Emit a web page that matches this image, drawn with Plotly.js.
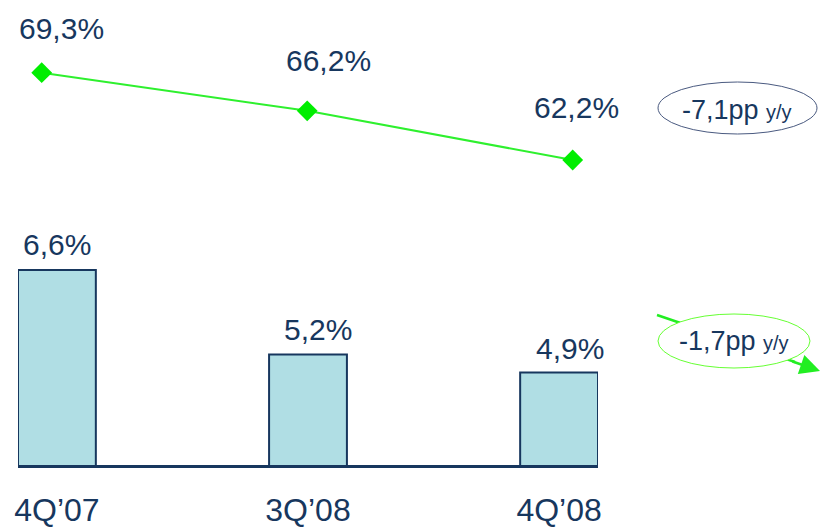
<!DOCTYPE html>
<html>
<head>
<meta charset="utf-8">
<script src="https://cdn.plot.ly/plotly-3.0.1.min.js"></script>
<style>html,body{margin:0;padding:0;background:#fff;}#chart{width:821px;height:529px;}</style>
</head>
<body>
<div id="chart"></div>
<script>
// ---- data ----
const quarters = ["4Q\u201907", "3Q\u201908", "4Q\u201908"];
const lineValues = [69.3, 66.2, 62.2];
const barValues = [6.6, 5.2, 4.9];
const lineDelta = "-7,1pp";
const barDelta = "-1,7pp";
const deltaUnit = "y/y";

// ---- helpers / styles ----
const fmt = v => v.toFixed(1).replace('.', ',') + '%';
const NAVY = '#17375E';
const FONT = 'Liberation Sans, Arial, sans-serif';
const W = 821, H = 529, ML = 18, MR = 223, MT = 0, MB = 64;
const PW = W - ML - MR, PH = H - MT - MB;
const px = x => (x - ML) / PW;
const py = y => (PH + MT - y) / PH;

const lineShift = [[20, 44], [21, 50], [4, 53]];
const barShift = [[0, 25], [10, 25], [11, 24]];

const traces = [
  {
    type: 'bar', x: quarters, y: barValues, xaxis: 'x', yaxis: 'y',
    width: 0.31,
    marker: {color: '#B0DEE4', line: {color: NAVY, width: 2}},
    hoverinfo: 'skip'
  },
  {
    type: 'scatter', mode: 'lines+markers', x: quarters, y: lineValues,
    xaxis: 'x2', yaxis: 'y2',
    line: {color: '#2EF02E', width: 2},
    marker: {symbol: 'diamond', size: 16, color: '#00EE00'},
    hoverinfo: 'skip'
  }
];

const annotations = [];
quarters.forEach((q, i) => {
  annotations.push({
    xref: 'x2', yref: 'y2', x: q, y: lineValues[i], text: fmt(lineValues[i]),
    showarrow: false, xshift: lineShift[i][0], yshift: lineShift[i][1],
    xanchor: 'center', yanchor: 'middle',
    font: {family: FONT, size: 30, color: NAVY}
  });
  annotations.push({
    xref: 'x', yref: 'y', x: q, y: barValues[i], text: fmt(barValues[i]),
    showarrow: false, xshift: barShift[i][0], yshift: barShift[i][1],
    xanchor: 'center', yanchor: 'middle',
    font: {family: FONT, size: 30, color: NAVY}
  });
});
annotations.push({
  xref: 'paper', yref: 'paper', x: px(737), y: py(110),
  xanchor: 'center', yanchor: 'middle',
  text: lineDelta + ' <span style="font-size:20px">' + deltaUnit + '</span>',
  showarrow: false, font: {family: FONT, size: 27, color: NAVY}
});
annotations.push({
  xref: 'paper', yref: 'paper', x: px(734), y: py(341),
  xanchor: 'center', yanchor: 'middle',
  text: barDelta + ' <span style="font-size:20px">' + deltaUnit + '</span>',
  showarrow: false, font: {family: FONT, size: 27, color: NAVY}
});
annotations.push({
  xref: 'paper', yref: 'paper', x: px(821), y: py(371),
  ax: -30, ay: -10, text: '', showarrow: true,
  arrowhead: 2, arrowsize: 1.6, arrowwidth: 2.5, arrowcolor: '#22EE22'
});

const shapes = [
  {type: 'line', xref: 'paper', yref: 'paper', x0: px(657), y0: py(315), x1: px(795), y1: py(362),
   line: {color: '#22EE22', width: 2.5}, layer: 'above'},
  {type: 'circle', xref: 'paper', yref: 'paper', x0: px(658), x1: px(817), y0: py(82), y1: py(134),
   line: {color: '#4A5A80', width: 1}, fillcolor: 'rgba(255,255,255,0)', layer: 'above'},
  {type: 'circle', xref: 'paper', yref: 'paper', x0: px(658), x1: px(810), y0: py(314), y1: py(368),
   line: {color: '#66FF33', width: 1}, fillcolor: '#FFFFFF', layer: 'above'}
];

const layout = {
  width: W, height: H,
  margin: {l: ML, r: MR, t: MT, b: MB, pad: 0},
  paper_bgcolor: '#FFFFFF', plot_bgcolor: 'rgba(0,0,0,0)',
  showlegend: false,
  font: {family: FONT, color: NAVY},
  xaxis: {
    type: 'category', range: [-0.155, 2.155], showgrid: false, zeroline: false,
    showline: true, linecolor: NAVY, linewidth: 3, ticks: '',
    tickfont: {family: FONT, size: 32, color: NAVY}, ticklabelstandoff: 15,
    fixedrange: true
  },
  yaxis: {range: [3.37, 11.07], visible: false, fixedrange: true},
  xaxis2: {
    type: 'category', overlaying: 'x', anchor: 'y2',
    range: [-(41.7 - ML) / 265.5, 2 + (ML + PW - 572.7) / 265.5],
    visible: false, fixedrange: true
  },
  yaxis2: {overlaying: 'y', anchor: 'x2', range: [37.4, 75.21], visible: false, fixedrange: true},
  annotations: annotations,
  shapes: shapes
};

Plotly.newPlot('chart', traces, layout, {displayModeBar: false, staticPlot: true});
</script>
</body>
</html>
